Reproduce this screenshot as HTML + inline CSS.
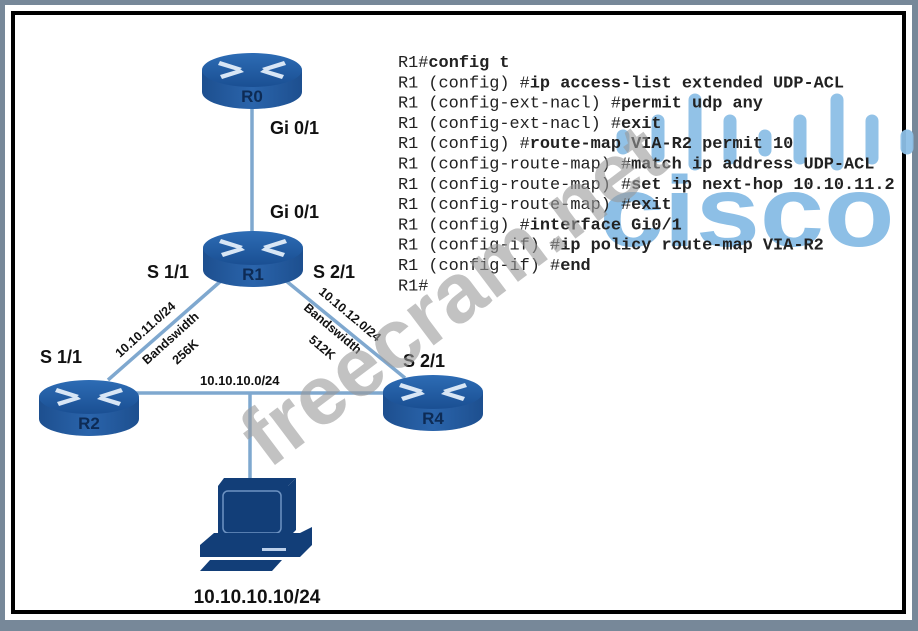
<!DOCTYPE html>
<html><head><meta charset="utf-8"><style>
html,body{margin:0;padding:0;background:#778899;}
body{width:918px;height:626px;overflow:hidden;}
</style></head><body>
<svg width="918" height="626" viewBox="0 0 918 626" xmlns="http://www.w3.org/2000/svg">
<defs>
<linearGradient id="rt" x1="0" y1="0" x2="0" y2="1"><stop offset="0" stop-color="#2d6cb5"/><stop offset="1" stop-color="#1a4f93"/></linearGradient>
<linearGradient id="rb" x1="0" y1="0" x2="1" y2="0"><stop offset="0" stop-color="#1d4f8f"/><stop offset="0.5" stop-color="#2a64ab"/><stop offset="1" stop-color="#1d4f8f"/></linearGradient>
<g id="router">
<path d="M-50,0 L-50,22 A50,17 0 0 0 50,22 L50,0 Z" fill="url(#rb)"/>
<ellipse cx="0" cy="0" rx="50" ry="17" fill="url(#rt)"/>
<g fill="#d8e6f5">
<polygon points="-32,-9 -10,-2 -14,1 -34,-5"/>
<polygon points="32,-9 10,-2 14,1 34,-5" />
<polygon points="-30,9 -8,2 -12,-1 -32,5" />
<polygon points="30,9 8,2 12,-1 32,5" />
</g>
</g>
</defs>
<rect x="5" y="5" width="907" height="615" fill="#fff"/>
<rect x="13" y="13" width="891" height="599" fill="#fff" stroke="#000" stroke-width="4"/>

<!-- cisco logo -->
<g stroke="#8dbfe6" stroke-width="13" stroke-linecap="round" opacity="0.95">
<line x1="623" y1="136" x2="623" y2="148"/>
<line x1="658" y1="121" x2="658" y2="156"/>
<line x1="695" y1="100" x2="695" y2="164"/>
<line x1="730" y1="121" x2="730" y2="158"/>
<line x1="765" y1="136" x2="765" y2="150"/>
<line x1="800" y1="121" x2="800" y2="158"/>
<line x1="837" y1="100" x2="837" y2="164"/>
<line x1="872" y1="121" x2="872" y2="158"/>
<line x1="907" y1="136" x2="907" y2="148"/>
</g>
<text x="747" y="246" text-anchor="middle" font-family="Liberation Sans, sans-serif" font-weight="bold" font-size="100" fill="#8dbfe6" textLength="295" lengthAdjust="spacingAndGlyphs">cisco</text>

<!-- code -->
<g font-family="Liberation Mono, monospace" font-size="16.9" fill="#222">
<text x="398" y="67">R1#<tspan font-weight="bold">config t</tspan></text>
<text x="398" y="87.3">R1 (config) #<tspan font-weight="bold">ip access-list extended UDP-ACL</tspan></text>
<text x="398" y="107.6">R1 (config-ext-nacl) #<tspan font-weight="bold">permit udp any</tspan></text>
<text x="398" y="127.9">R1 (config-ext-nacl) #<tspan font-weight="bold">exit</tspan></text>
<text x="398" y="148.2">R1 (config) #<tspan font-weight="bold">route-map VIA-R2 permit 10</tspan></text>
<text x="398" y="168.5">R1 (config-route-map) #<tspan font-weight="bold">match ip address UDP-ACL</tspan></text>
<text x="398" y="188.8">R1 (config-route-map) #<tspan font-weight="bold">set ip next-hop 10.10.11.2</tspan></text>
<text x="398" y="209.1">R1 (config-route-map) #<tspan font-weight="bold">exit</tspan></text>
<text x="398" y="229.4">R1 (config) #<tspan font-weight="bold">interface Gi0/1</tspan></text>
<text x="398" y="249.7">R1 (config-if) #<tspan font-weight="bold">ip policy route-map VIA-R2</tspan></text>
<text x="398" y="270">R1 (config-if) #<tspan font-weight="bold">end</tspan></text>
<text x="398" y="290.3">R1#</text>
</g>

<!-- links -->
<g stroke="#7fa8cf" stroke-width="3.5" fill="none">
<line x1="252" y1="108" x2="252" y2="232"/>
<line x1="222" y1="280" x2="108" y2="380"/>
<line x1="285" y1="280" x2="405" y2="378"/>
<line x1="130" y1="393" x2="390" y2="393"/>
<line x1="250" y1="393" x2="250" y2="478"/>
</g>

<use href="#router" x="252" y="70"/>
<use href="#router" x="253" y="248"/>
<use href="#router" x="89" y="397"/>
<use href="#router" x="433" y="392"/>

<g font-family="Liberation Sans, sans-serif" font-weight="bold" fill="#111">
<text x="252" y="102" text-anchor="middle" font-size="17" fill="#0d2b55">R0</text>
<text x="253" y="280" text-anchor="middle" font-size="17" fill="#0d2b55">R1</text>
<text x="89" y="429" text-anchor="middle" font-size="17" fill="#0d2b55">R2</text>
<text x="433" y="424" text-anchor="middle" font-size="17" fill="#0d2b55">R4</text>
<text x="270" y="134" font-size="18">Gi 0/1</text>
<text x="270" y="218" font-size="18">Gi 0/1</text>
<text x="147" y="278" font-size="18">S 1/1</text>
<text x="313" y="278" font-size="18">S 2/1</text>
<text x="40" y="363" font-size="18">S 1/1</text>
<text x="403" y="367" font-size="18">S 2/1</text>
<text x="200" y="385" font-size="13">10.10.10.0/24</text>
<text x="120" y="358" font-size="12.5" transform="rotate(-42 120 358)">10.10.11.0/24</text>
<text x="147" y="365" font-size="12.5" transform="rotate(-42 147 365)">Bandswidth</text>
<text x="177" y="365" font-size="12.5" transform="rotate(-42 177 365)">256K</text>
<text x="318" y="293" font-size="12.5" transform="rotate(40 318 293)">10.10.12.0/24</text>
<text x="303" y="309" font-size="12.5" transform="rotate(40 303 309)">Bandswidth</text>
<text x="308" y="341" font-size="12.5" transform="rotate(40 308 341)">512K</text>
<text x="257" y="603" text-anchor="middle" font-size="19">10.10.10.10/24</text>
</g>

<!-- PC -->
<g fill="#123e78">
<polygon points="224,478 296,478 288,486 218,486"/>
<polygon points="288,486 296,478 296,530 288,538"/>
<rect x="218" y="486" width="70" height="52"/>
<rect x="223" y="491" width="58" height="42" rx="5" fill="#123e78" stroke="#6e93c2" stroke-width="1.5"/>
<polygon points="214,533 300,533 312,527 312,545 300,557 200,557 200,545" />
<rect x="262" y="548" width="24" height="3" fill="#bcd0ea"/>
<polygon points="210,560 282,560 272,571 200,571"/>
</g>

<!-- watermark -->
<text x="470" y="318" text-anchor="middle" font-family="Liberation Sans, sans-serif" font-weight="bold" font-size="84" fill="#9a9a9a" opacity="0.6" transform="rotate(-37 470 318)">freecram.net</text>
</svg>
</body></html>
